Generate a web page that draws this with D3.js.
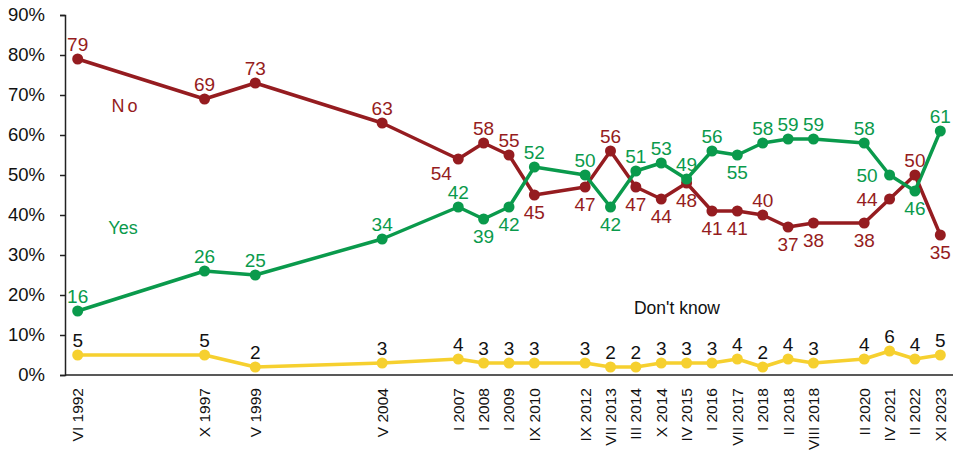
<!DOCTYPE html>
<html>
<head>
<meta charset="utf-8">
<script src="https://cdn.jsdelivr.net/npm/d3@7"></script>
<style>
  html, body { margin: 0; padding: 0; background: #fff; }
  svg { display: block; font-family: "Liberation Sans", Arial, sans-serif; }
</style>
</head>
<body>
<svg id="chart" width="953" height="456"></svg>
<script>
// Survey waves (blank entries are empty category slots in the source sheet)
const categories = ["VI 1992","","","","","X 1997","","V 1999","","","","","V 2004","","",
  "I 2007","I 2008","I 2009","IX 2010","","IX  2012","VII 2013","III 2014","X 2014","IV 2015",
  "I 2016","VII 2017","I 2018","II 2018","VIII 2018","","II 2020","IV 2021","II 2022","XI 2023"];

const yesValues = [16,null,null,null,null,26,null,25,null,null,null,null,34,null,null,
  42,39,42,52,null,50,42,51,53,49,56,55,58,59,59,null,58,50,46,61];
const noValues = [79,null,null,null,null,69,null,73,null,null,null,null,63,null,null,
  54,58,55,45,null,47,56,47,44,48,41,41,40,37,38,null,38,44,50,35];
const dkValues = [5,null,null,null,null,5,null,2,null,null,null,null,3,null,null,
  4,3,3,3,null,3,2,2,3,3,3,4,2,4,3,null,4,6,4,5];

// label placement: a = above, b = below, bl = below-left, l = left
const yesLabelPos = ["a","","","","","a","","a","","","","","a","","",
  "a","b","b","a","","a","b","a","a","a","a","b","a","a","a","","a","l","b","a"];
const noLabelPos = ["a","","","","","a","","a","","","","","a","","",
  "bl","a","a","b","","b","a","b","b","b","b","b","a","b","b","","b","l","a","b"];

const yTicks = [0,10,20,30,40,50,60,70,80,90];

const series = [
  {name: "No", values: noValues, pos: noLabelPos, color: "#951c20", labelColor: "#951c20"},
  {name: "Yes", values: yesValues, pos: yesLabelPos, color: "#0a9a4c", labelColor: "#0a9a4c"},
  {name: "Don't know", values: dkValues, pos: null, color: "#f6d02f", labelColor: "#111"}
];

const svg = d3.select("#chart");
const mLeft = 65, mRight = 953, mTop = 15, mBottom = 375;

const x = d3.scaleBand().domain(d3.range(categories.length)).range([mLeft, mRight]);
const cx = i => x(i) + x.bandwidth() / 2;
const y = d3.scaleLinear().domain([0, 90]).range([mBottom, mTop]);

// Y axis
const yAxis = svg.append("g")
  .attr("transform", `translate(${mLeft},0)`)
  .call(d3.axisLeft(y).tickValues(yTicks).tickFormat(d => d + "%").tickSize(5).tickPadding(15));
yAxis.selectAll("path, line").attr("stroke", "#222").attr("stroke-width", 1.5);
yAxis.selectAll("text").attr("font-size", 18.5).attr("fill", "#111")
  .attr("font-family", "Liberation Sans, Arial, sans-serif");

// X axis
const xAxis = svg.append("g")
  .attr("transform", `translate(0,${mBottom})`)
  .call(d3.axisBottom(x).tickSize(0).tickFormat(i => categories[i]));
xAxis.select(".domain").attr("stroke", "#222").attr("stroke-width", 1.5)
  .attr("d", `M${mLeft},0H${mRight}`);
xAxis.selectAll("text")
  .attr("font-size", 15.5).attr("fill", "#111")
  .attr("font-family", "Liberation Sans, Arial, sans-serif")
  .attr("transform", "rotate(-90)")
  .attr("text-anchor", "end")
  .attr("x", -13).attr("y", 0).attr("dy", "0.35em");

// Lines & points
series.forEach(s => {
  const pts = s.values.map((v, i) => ({i, v})).filter(d => d.v !== null);
  const line = d3.line().x(d => cx(d.i)).y(d => y(d.v));
  svg.append("path").datum(pts)
    .attr("fill", "none").attr("stroke", s.color).attr("stroke-width", 3.5)
    .attr("stroke-linejoin", "round").attr("d", line);
});
series.forEach(s => {
  const pts = s.values.map((v, i) => ({i, v})).filter(d => d.v !== null);
  svg.append("g").selectAll("circle").data(pts).join("circle")
    .attr("cx", d => cx(d.i)).attr("cy", d => y(d.v)).attr("r", 5.5)
    .attr("fill", s.color);
});
// Data labels
const labelX = d => d.p === "l" ? cx(d.i) - 12 : d.p === "bl" ? cx(d.i) - 17 : cx(d.i);
const labelY = d => d.p === "a" ? y(d.v) - 8 : d.p === "b" ? y(d.v) + 24 : d.p === "bl" ? y(d.v) + 21 : y(d.v) + 7;
series.forEach(s => {
  const pts = s.values.map((v, i) => ({i, v, p: s.pos ? s.pos[i] : "a"})).filter(d => d.v !== null);
  svg.append("g").selectAll("text").data(pts).join("text")
    .attr("font-size", 19).attr("fill", s.labelColor)
    .attr("text-anchor", d => d.p === "l" ? "end" : "middle")
    .attr("x", labelX)
    .attr("y", labelY)
    .text(d => d.v);
});

// Series name labels
svg.append("text").attr("x", 126).attr("y", 112).attr("text-anchor", "middle")
  .attr("font-size", 18).attr("letter-spacing", 3).attr("fill", "#951c20").text("No");
svg.append("text").attr("x", 123).attr("y", 234).attr("text-anchor", "middle")
  .attr("font-size", 18).attr("fill", "#0a9a4c").text("Yes");
svg.append("text").attr("x", 677).attr("y", 314).attr("text-anchor", "middle")
  .attr("font-size", 17.5).attr("fill", "#111").text("Don't know");
</script>
</body>
</html>
